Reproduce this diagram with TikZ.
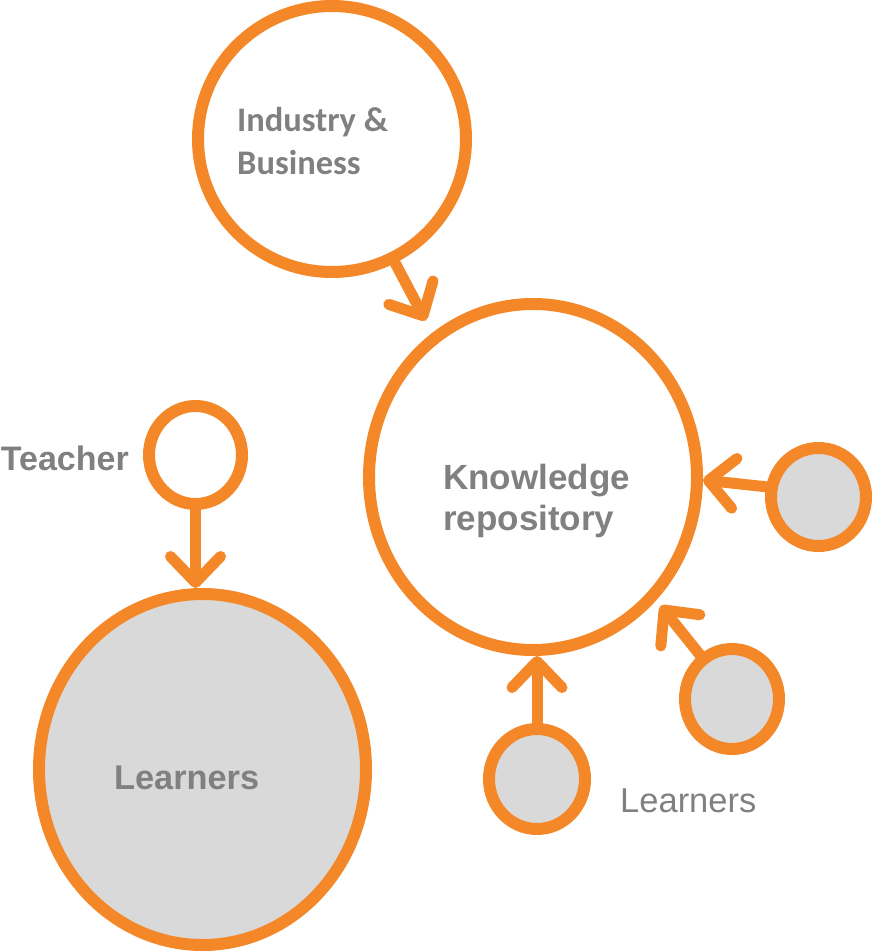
\documentclass[tikz,border=0pt]{standalone}
\usepackage{fontspec}
\setmainfont{Liberation Sans}
\newfontfamily\calibrifont{Carlito}
\usetikzlibrary{shapes.geometric,arrows.meta}

\definecolor{ringorange}{RGB}{244,136,40}
\definecolor{labelgray}{RGB}{128,128,128}
\definecolor{learnerfill}{RGB}{217,217,217}

\tikzset{
    ring/.style={ellipse, draw=ringorange, line width=12pt, inner sep=0pt},
    learner/.style={ring, fill=learnerfill},
    flow/.style={draw=ringorange, line width=11pt, line cap=round,
        -{Straight Barb[length=26pt, width=50pt, round]}},
    tag/.style={text=labelgray, inner sep=0pt, anchor=base west, align=left},
}

\begin{document}
\begin{tikzpicture}[x=1pt, y=-1pt]
    \useasboundingbox (0,0) rectangle (872,952);

    % Circles
    \node[ring, minimum width=268pt, minimum height=266pt] (ib) at (332,139) {};
    \node[ring, minimum width=328pt, minimum height=346pt] (kr) at (533,477) {};
    \node[ring, minimum width=93pt, minimum height=98pt] (teacher) at (195.5,455) {};
    \node[learner, minimum width=327pt, minimum height=351pt] (learners) at (202.5,769.5) {};
    \node[learner, minimum width=95pt, minimum height=98pt] (lr) at (818.5,497) {};
    \node[learner, minimum width=94pt, minimum height=100pt] (lm) at (732,699) {};
    \node[learner, minimum width=96pt, minimum height=100pt] (lb) at (537,779) {};

    % Arrows
    \draw[flow, shorten >=14pt] (ib.-63) -- (kr.125);
    \draw[flow] (teacher) -- (teacher |- learners.north);
    \draw[flow] (lr.169) -- (kr.-1);
    \draw[flow, shorten >=7pt] (lm.126) -- (kr.-45);
    \draw[flow] (lb) -- (lb |- kr.south);

    % Labels
    \node[tag, font=\calibrifont\bfseries\fontsize{34.5}{43}\selectfont] (ibtext) at (237,175) {Industry \&\\Business};
    \node[tag, font=\bfseries\fontsize{35}{41}\selectfont] (krtext) at (443,530) {Knowledge\\repository};
    \node[tag, anchor=base east, font=\bfseries\fontsize{34}{41}\selectfont] (teachertext) at (129,470) {Teacher};
    \node[tag, font=\bfseries\fontsize{34.3}{41}\selectfont] (learnerstext) at (114,789) {Learners};
    \node[tag, font=\fontsize{34.5}{41}\selectfont] (lrtext) at (620,812) {Learners};
\end{tikzpicture}
\end{document}
